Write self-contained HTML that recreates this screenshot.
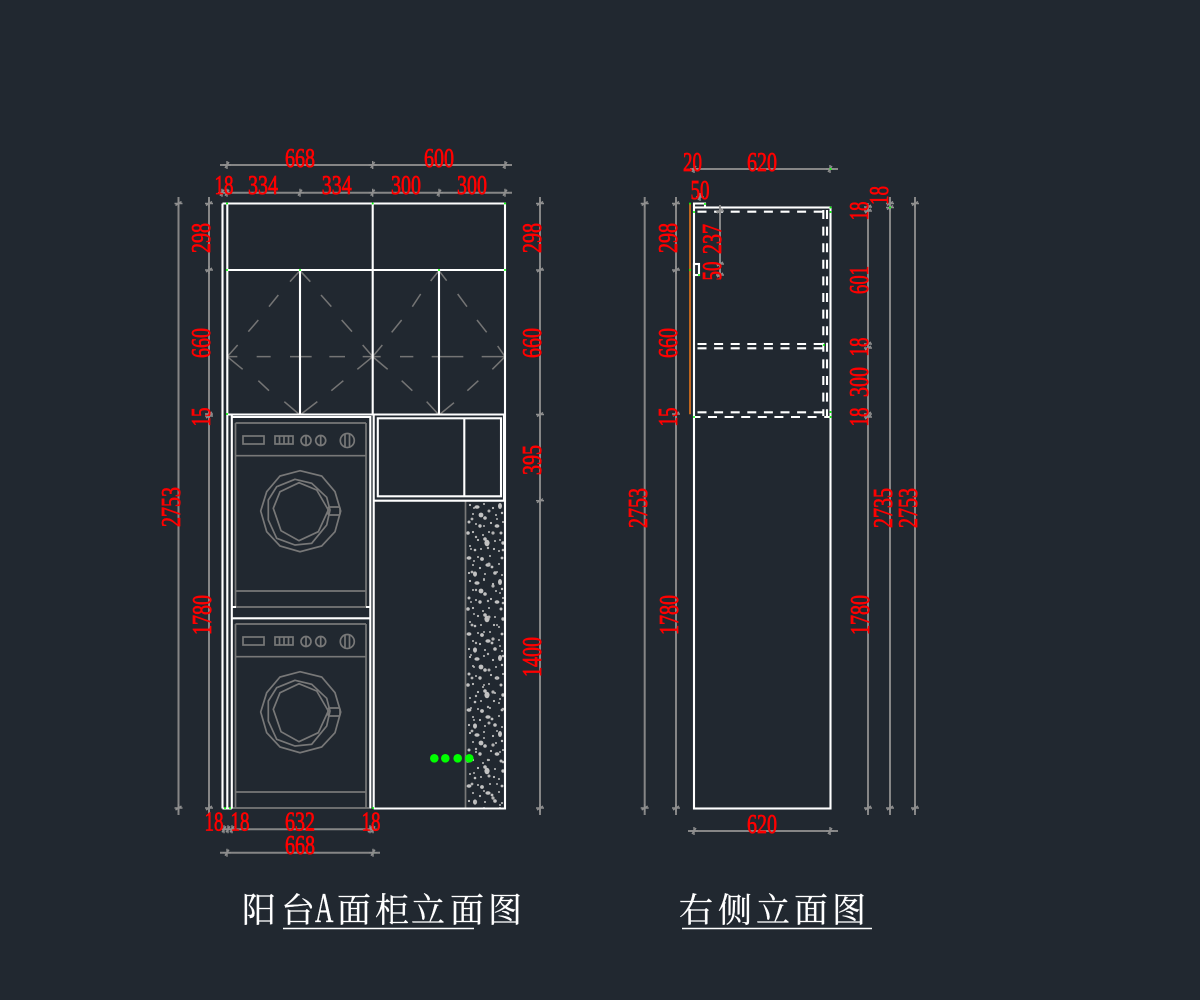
<!DOCTYPE html>
<html><head><meta charset="utf-8"><style>
html,body{margin:0;padding:0;background:#212830}
svg{display:block;filter:blur(.35px)}
.d{font-family:"Liberation Serif",serif;font-size:27px;fill:#f00;stroke:#f00;stroke-width:.75;text-anchor:middle}
.t{font-family:"Liberation Serif","Noto Serif CJK SC",serif;font-size:34px;fill:#fff;stroke:#fff;stroke-width:.25}
.w{stroke:#fff;stroke-width:2.1;fill:none}
.g{stroke:#868686;stroke-width:2;fill:none}
.f{stroke:#787878;stroke-width:1.7;fill:none}
</style></head><body>
<svg xmlns="http://www.w3.org/2000/svg" width="1200" height="1000" viewBox="0 0 1200 1000">
<defs>
<g id="h"><path d="M-4 0H4M0 -4V4M-2 3L2 -3" stroke="#8e8e8e" stroke-width="1.4" fill="none"/></g>
<g id="v"><path d="M0 -4V4M-4 0H4M-3 2L3 -2" stroke="#8e8e8e" stroke-width="1.4" fill="none"/></g>
<g id="washer">
<path class="f" d="M235.5 423V607M366 423V607M235.5 423H366M235.5 455.7H366M235.5 591H366M232 607H369"/>
<rect class="f" x="243" y="436" width="21" height="8"/>
<rect class="f" x="275" y="436" width="18" height="8"/>
<path class="f" d="M279.5 436V444M284 436V444M288.5 436V444M306 435V446M320.7 435V446M345 434V447M349.5 434V447"/>
<circle class="f" cx="306" cy="440.5" r="5"/>
<circle class="f" cx="320.7" cy="440.5" r="5"/>
<circle class="f" cx="347.3" cy="440.5" r="7"/>
<polygon class="f" points="300,470.7 321.7,476 335,491.7 340.7,511 335,531.7 321.7,546 300,551.7 280,546 266.7,531.7 260.7,511 266.7,491.7 280,476"/>
<polygon class="f" points="295,479.3 311.7,483.3 326.7,497.3 330,510 326.7,525 311.7,543.3 295,545 276.7,538.3 268.3,520 268.3,500 276.7,486.7"/>
<polygon class="f" points="299,482.7 316.7,490 328.3,510 318.3,531.7 299,540.7 281,530.7 273.3,508.3 280,491.7"/>
<rect class="f" x="328" y="507" width="12" height="8" rx="1.5"/>
</g>
<pattern id="sp" x="466" y="502" width="39" height="76" patternUnits="userSpaceOnUse">
<g fill="#c2c2c2">
<circle cx="4" cy="3" r="1.1"/><ellipse cx="11" cy="5" rx="2.6" ry="1.8"/><circle cx="18" cy="2" r="1"/><circle cx="27" cy="6" r="1.1"/><ellipse cx="34" cy="4" rx="2" ry="3"/>
<circle cx="7" cy="12" r="1"/><circle cx="15" cy="13" r="2.4"/><circle cx="19" cy="16" r="1.8"/><circle cx="30" cy="13" r="1"/><circle cx="36" cy="11" r="1.2"/>
<circle cx="3" cy="20" r="1.5"/><circle cx="10" cy="22" r="1"/><circle cx="14" cy="24" r="1.7"/><circle cx="25" cy="21" r="1.1"/><ellipse cx="31" cy="24" rx="2.4" ry="1.8"/><circle cx="37" cy="20" r="1"/>
<circle cx="2" cy="31" r="1.8"/><circle cx="7" cy="30" r="1.1"/><circle cx="17" cy="33" r="1"/><circle cx="23" cy="30" r="1"/><circle cx="35" cy="31" r="1.5"/>
<circle cx="12" cy="38" r="1.1"/><ellipse cx="21" cy="41" rx="2.6" ry="3.2"/><circle cx="19" cy="37" r="1.8"/><circle cx="29" cy="39" r="1"/><circle cx="37" cy="41" r="1.7"/>
<circle cx="4" cy="44" r="1"/><circle cx="9" cy="48" r="1.3"/><circle cx="15" cy="47" r="1"/><circle cx="28" cy="47" r="1.1"/><circle cx="33" cy="49" r="1"/>
<ellipse cx="3" cy="56" rx="2.4" ry="1.8"/><circle cx="12" cy="55" r="1"/><circle cx="16" cy="57" r="1.9"/><circle cx="24" cy="54" r="1"/><circle cx="36" cy="56" r="1.4"/>
<circle cx="7" cy="63" r="1"/><circle cx="14" cy="66" r="1.1"/><ellipse cx="22" cy="63" rx="2.6" ry="1.8"/><circle cx="26" cy="65" r="1.4"/><circle cx="33" cy="62" r="1"/>
<circle cx="3" cy="71" r="1.1"/><ellipse cx="9" cy="72" rx="2" ry="2.6"/><circle cx="19" cy="72" r="1"/><circle cx="29" cy="71" r="1.8"/><circle cx="36" cy="73" r="1"/>
</g>
</pattern>
<pattern id="sp2" x="466" y="502" width="39" height="53" patternUnits="userSpaceOnUse">
<g fill="#b4b4b4">
<circle cx="8" cy="6" r="1"/><circle cx="23" cy="9" r="1.5"/><circle cx="31" cy="17" r="1"/><circle cx="6" cy="17" r="1.4"/><circle cx="18" cy="24" r="1"/><circle cx="27" cy="31" r="1.6"/><circle cx="10" cy="35" r="1.2"/><circle cx="34" cy="38" r="1"/><circle cx="22" cy="46" r="1.2"/><circle cx="5" cy="47" r="1"/><circle cx="37" cy="48" r="1.3"/>
</g>
</pattern>
</defs>
<rect width="1200" height="1000" fill="#212830"/>

<!-- left elevation: door dashes -->
<g transform="translate(170,140) scale(.33333)" stroke="#747474" stroke-width="4.6" fill="none">
<path d="M390 392L360 425M325 465L297 500M265 540L235 575M203 615L172 650"/>
<path d="M390 392L421 425M453 465L484 500M515 540L546 575M578 615L608 650"/>
<path d="M172 650L218 688M265 722L297 752M343 785L390 825"/>
<path d="M608 650L562 688M520 722L484 752M442 785L390 825"/>
<path d="M807 392L782 423M752 462L727 500M695 540L665 577M637 615L608 650"/>
<path d="M807 392L830 422M863 462L891 500M921 540L950 577M983 618L1005 650"/>
<path d="M608 650L653 688M695 722L727 752M770 785L807 825"/>
<path d="M1005 650L967 688M925 722L892 752M852 788L807 825"/>
<path d="M170 650H202M260 650H302M360 650H425M478 650H525M578 650H632M690 650H730M785 650H880M935 650H1005"/>
</g>
<rect x="466" y="502" width="39" height="306" fill="url(#sp)"/>
<rect x="466" y="502" width="39" height="306" fill="url(#sp2)"/>
<path class="f" d="M465.5 501V808"/>
<use href="#washer"/>
<use href="#washer" y="201"/>

<path class="w" d="M222.5 203.5H505V808.5H373.7M222.5 203.5V808.5M227.3 203.5V808.5M231.8 415V808.5M222.5 808.5H231.8"/>
<path class="w" d="M227 270H505M372.7 203.5V415M300 270V414.3M439 270V414.3M227 414.5H505"/>
<path class="w" d="M231.8 417H370.3V808.5M231.8 607H236M366 607H370.3M231.8 618.3H370.3M373.7 415V808.5"/>
<rect class="w" x="377.8" y="418.3" width="123.2" height="78"/>
<path class="w" d="M464.3 418.3V496.3M374 500.7H505M504 414.5V500.7"/>

<!-- green dots -->
<g fill="#0f0">
<g><circle cx="434.3" cy="758.3" r="4.3"/><circle cx="445.3" cy="758.3" r="4.3"/><circle cx="457.7" cy="758.3" r="4.3"/><circle cx="469.3" cy="758.3" r="4.3"/></g>
<circle cx="209" cy="203.5" r="1"/><circle cx="227" cy="203.5" r="1"/><circle cx="372.7" cy="203.5" r="1"/><circle cx="505" cy="203.5" r="1"/><circle cx="227" cy="270" r="1"/><circle cx="300" cy="270" r="1"/><circle cx="439" cy="270" r="1"/><circle cx="505" cy="270" r="1"/><circle cx="227" cy="414" r="1"/><circle cx="373" cy="808" r="1"/><circle cx="225" cy="808" r="1"/><circle cx="230" cy="808" r="1"/><circle cx="505" cy="165" r="1"/><circle cx="505" cy="192.7" r="1"/><circle cx="374" cy="852.7" r="1"/>
</g>

<!-- left dims -->
<path class="g" d="M220 165H512M220 192.7H512M178.5 197V815M209 197V815M540 197V815M222 829.3H375M220 852.7H380"/>
<g>
<use href="#h" x="227" y="165"/><use href="#h" x="372.7" y="165"/><use href="#h" x="505" y="165"/>
<use href="#h" x="222" y="192.7"/><use href="#h" x="227" y="192.7"/><use href="#h" x="300" y="192.7"/><use href="#h" x="372.7" y="192.7"/><use href="#h" x="439" y="192.7"/><use href="#h" x="505" y="192.7"/>
<use href="#v" x="178.5" y="203.5"/><use href="#v" x="178.5" y="808"/><use href="#v" x="209" y="203.5"/><use href="#v" x="209" y="270"/><use href="#v" x="209" y="414"/><use href="#v" x="209" y="416"/><use href="#v" x="209" y="808"/>
<use href="#v" x="540" y="203.5"/><use href="#v" x="540" y="270"/><use href="#v" x="540" y="414.5"/><use href="#v" x="540" y="500.7"/><use href="#v" x="540" y="808"/>
<use href="#h" x="224" y="829.3"/><use href="#h" x="228" y="829.3"/><use href="#h" x="232" y="829.3"/><use href="#h" x="370" y="829.3"/><use href="#h" x="373" y="829.3"/>
<use href="#h" x="227" y="852.7"/><use href="#h" x="373" y="852.7"/>
</g>
<g class="d">
<text x="300" y="167" textLength="30" lengthAdjust="spacingAndGlyphs">668</text>
<text x="439" y="167" textLength="30" lengthAdjust="spacingAndGlyphs">600</text>
<text x="224" y="194" textLength="19" lengthAdjust="spacingAndGlyphs">18</text>
<text x="263" y="194" textLength="30" lengthAdjust="spacingAndGlyphs">334</text>
<text x="336.7" y="194" textLength="30" lengthAdjust="spacingAndGlyphs">334</text>
<text x="406" y="194" textLength="30" lengthAdjust="spacingAndGlyphs">300</text>
<text x="472" y="194" textLength="30" lengthAdjust="spacingAndGlyphs">300</text>
<text x="214" y="830.5" textLength="19" lengthAdjust="spacingAndGlyphs">18</text>
<text x="240" y="830.5" textLength="19" lengthAdjust="spacingAndGlyphs">18</text>
<text x="300" y="830.5" textLength="30" lengthAdjust="spacingAndGlyphs">632</text>
<text x="371" y="830.5" textLength="19" lengthAdjust="spacingAndGlyphs">18</text>
<text x="300" y="854" textLength="30" lengthAdjust="spacingAndGlyphs">668</text>

<text transform="translate(180,507) rotate(-90)" textLength="40" lengthAdjust="spacingAndGlyphs">2753</text>
<text transform="translate(210,238) rotate(-90)" textLength="30" lengthAdjust="spacingAndGlyphs">298</text>
<text transform="translate(210,343) rotate(-90)" textLength="30" lengthAdjust="spacingAndGlyphs">660</text>
<text transform="translate(210,417) rotate(-90)" textLength="19" lengthAdjust="spacingAndGlyphs">15</text>
<text transform="translate(211,615) rotate(-90)" textLength="40" lengthAdjust="spacingAndGlyphs">1780</text>
<text transform="translate(541,238) rotate(-90)" textLength="30" lengthAdjust="spacingAndGlyphs">298</text>
<text transform="translate(541,343) rotate(-90)" textLength="30" lengthAdjust="spacingAndGlyphs">660</text>
<text transform="translate(541,460) rotate(-90)" textLength="30" lengthAdjust="spacingAndGlyphs">395</text>
<text transform="translate(541,657) rotate(-90)" textLength="40" lengthAdjust="spacingAndGlyphs">1400</text>
</g>

<!-- right elevation -->
<path d="M690 203.3V414.3" stroke="#c0661e" stroke-width="2" fill="none"/>
<rect class="w" x="694" y="207.5" width="136.5" height="601"/>
<path class="w" d="M694 207V203.5H705V207"/>
<rect class="w" x="694" y="264" width="5" height="11"/>
<g stroke="#fff" stroke-width="2.1" fill="none" stroke-dasharray="9 7.6">
<path d="M697.5 211.7H826"/>
<path d="M697.5 344H824"/>
<path d="M697.5 348.3H824"/>
<path d="M697.5 412.3H824"/>
<path d="M694 417H830" stroke-dashoffset="2.6"/>
<path d="M823.3 210V416"/>
<path d="M827 210V416"/>
</g>
<path class="g" d="M690 169H838M688 831H838M644.7 197V815M676 197V815M868 205V815M890 197V815M915 197V815M720 205V276"/>
<g>
<use href="#h" x="694" y="169"/><use href="#h" x="830" y="169"/><use href="#h" x="694" y="831"/><use href="#h" x="830" y="831"/>
<use href="#h" x="700" y="197"/>
<use href="#v" x="644.7" y="203.5"/><use href="#v" x="644.7" y="808"/><use href="#v" x="676" y="203.5"/><use href="#v" x="676" y="270"/><use href="#v" x="676" y="414"/><use href="#v" x="676" y="808"/>
<use href="#v" x="868" y="207"/><use href="#v" x="868" y="211"/><use href="#v" x="868" y="344"/><use href="#v" x="868" y="348"/><use href="#v" x="868" y="414"/><use href="#v" x="868" y="417"/><use href="#v" x="868" y="808"/>
<use href="#v" x="890" y="203.5"/><use href="#v" x="890" y="207.5"/><use href="#v" x="890" y="808"/><use href="#v" x="915" y="203.5"/><use href="#v" x="915" y="808"/>
<use href="#v" x="720" y="211"/><use href="#v" x="720" y="264"/><use href="#v" x="720" y="275"/>
</g>
<g fill="#0f0">
<circle cx="830.5" cy="207.5" r="1"/><circle cx="830.5" cy="212" r="1"/><circle cx="830.5" cy="412" r="1"/><circle cx="830.5" cy="417" r="1"/><circle cx="694" cy="212" r="1"/><circle cx="694" cy="417" r="1"/><circle cx="690" cy="203.5" r="1"/><circle cx="705" cy="204" r="1"/><circle cx="830.5" cy="169" r="1"/><circle cx="690" cy="270" r="1"/><circle cx="699" cy="275" r="1"/><circle cx="890" cy="207.5" r="1"/><circle cx="824" cy="345" r="1"/>
</g>
<g class="d">
<text x="692.5" y="171" textLength="19" lengthAdjust="spacingAndGlyphs">20</text>
<text x="762" y="171" textLength="30" lengthAdjust="spacingAndGlyphs">620</text>
<text x="700" y="199" textLength="19" lengthAdjust="spacingAndGlyphs">50</text>
<text x="762" y="833" textLength="30" lengthAdjust="spacingAndGlyphs">620</text>
<text transform="translate(647,508) rotate(-90)" textLength="40" lengthAdjust="spacingAndGlyphs">2753</text>
<text transform="translate(677,238) rotate(-90)" textLength="30" lengthAdjust="spacingAndGlyphs">298</text>
<text transform="translate(677,343) rotate(-90)" textLength="30" lengthAdjust="spacingAndGlyphs">660</text>
<text transform="translate(677,417) rotate(-90)" textLength="19" lengthAdjust="spacingAndGlyphs">15</text>
<text transform="translate(678,615) rotate(-90)" textLength="40" lengthAdjust="spacingAndGlyphs">1780</text>
<text transform="translate(721,239) rotate(-90)" textLength="30" lengthAdjust="spacingAndGlyphs">237</text>
<text transform="translate(721,271) rotate(-90)" textLength="19" lengthAdjust="spacingAndGlyphs">50</text>
<text transform="translate(868,211) rotate(-90)" textLength="19" lengthAdjust="spacingAndGlyphs">18</text>
<text transform="translate(888,195.5) rotate(-90)" textLength="19" lengthAdjust="spacingAndGlyphs">18</text>
<text transform="translate(868,280) rotate(-90)" textLength="28" lengthAdjust="spacingAndGlyphs">601</text>
<text transform="translate(868,347) rotate(-90)" textLength="19" lengthAdjust="spacingAndGlyphs">18</text>
<text transform="translate(868,382) rotate(-90)" textLength="30" lengthAdjust="spacingAndGlyphs">300</text>
<text transform="translate(868,417) rotate(-90)" textLength="19" lengthAdjust="spacingAndGlyphs">18</text>
<text transform="translate(869,615) rotate(-90)" textLength="40" lengthAdjust="spacingAndGlyphs">1780</text>
<text transform="translate(892,508) rotate(-90)" textLength="40" lengthAdjust="spacingAndGlyphs">2735</text>
<text transform="translate(917,508) rotate(-90)" textLength="40" lengthAdjust="spacingAndGlyphs">2753</text>
</g>

<!-- titles -->
<text class="t" y="922" x="242 281">阳台</text>
<text class="t" transform="translate(315,922) scale(.75,1.25)">A</text>
<text class="t" y="922" x="337 375 411 450 488">面柜立面图</text>
<text class="t" y="922" x="679 718 756 794 832">右侧立面图</text>
<path d="M283 928.5H474M682 928.5H872" stroke="#fff" stroke-width="1.5" fill="none"/>
</svg>
</body></html>
